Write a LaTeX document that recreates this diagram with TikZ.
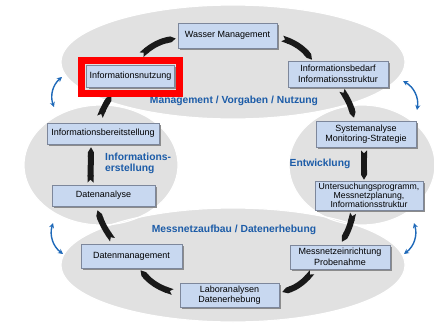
\documentclass[tikz,border=0pt]{standalone}
\usepackage{fontspec}
\setmainfont{Liberation Sans}
\usetikzlibrary{arrows.meta,shadows,calc}
\definecolor{ellgray}{RGB}{225,225,225}
\definecolor{boxfill}{RGB}{200,216,240}
\definecolor{boxline}{RGB}{125,135,155}
\definecolor{labblue}{RGB}{28,92,168}
\definecolor{arrblue}{RGB}{30,105,185}
\begin{document}
\begin{tikzpicture}[x=1pt,y=-1pt,
  box/.style={draw=boxline, line width=0.6pt, fill=boxfill, align=center, inner sep=1pt,
    font=\fontsize{9}{10.5}\selectfont,
    drop shadow={shadow xshift=2pt, shadow yshift=-2pt, fill=black!45, opacity=1}},
  lab/.style={text=labblue, inner sep=0pt, font=\bfseries\fontsize{10.3}{11.2}\selectfont},
  flow/.style={line width=6pt, black!90, {Triangle Cap[reversed,length=3pt]}-{Triangle Cap[length=5pt]}},
  swap/.style={arrblue, line width=1.4pt, {Stealth[length=5pt,width=5pt]}-{Stealth[length=5pt,width=5pt]}},
  ellfill/.style={fill=ellgray},
  elledge/.style={draw=white, line width=1.2pt}]
\useasboundingbox[fill=white] (0,0) rectangle (434,324);
% ellipses
\fill[ellfill] (233,62) ellipse [x radius=172, y radius=57];
\fill[ellfill] (233,265) ellipse [x radius=172, y radius=57];
\fill[ellfill] (101,165) ellipse [x radius=77, y radius=60];
\fill[ellfill] (362,165) ellipse [x radius=73, y radius=60];
\draw[elledge] (233,62) ellipse [x radius=172, y radius=57];
\draw[elledge] (233,265) ellipse [x radius=172, y radius=57];
\draw[elledge] (101,165) ellipse [x radius=77, y radius=60];
\draw[elledge] (362,165) ellipse [x radius=73, y radius=60];
% labels
\node[lab] (l1) at (234,101) {Management / Vorgaben / Nutzung};
\node[lab, align=left, anchor=west] (l2) at (105,163.5) {Informations-\\erstellung};
\node[lab] (l3) at (320,164) {Entwicklung};
\node[lab] (l4) at (234,230) {Messnetzaufbau / Datenerhebung};
% boxes
\node[box, minimum width=99pt, minimum height=25pt] (wm) at (227.5,35.5) {Wasser Management};
\node[box, minimum width=88pt, minimum height=22pt] (in) at (130.5,76) {Informationsnutzung};
\node[box, minimum width=100pt, minimum height=26pt] (ib) at (338,74) {Informationsbedarf\\Informationsstruktur};
\node[box, minimum width=112pt, minimum height=21pt] (bs) at (103,133.5) {Informationsbereitstellung};
\node[box, minimum width=100pt, minimum height=26pt] (sa) at (366,134) {Systemanalyse\\Monitoring-Strategie};
\node[box, minimum width=103pt, minimum height=21pt] (da) at (103.5,195.5) {Datenanalyse};
\node[box, minimum width=108pt, minimum height=29pt, font=\fontsize{8.7}{9}\selectfont] (up) at (369,195.5) {Untersuchungsprogramm,\\Messnetzplanung,\\Informationsstruktur};
\node[box, minimum width=101pt, minimum height=24pt] (dm) at (131.5,256) {Datenmanagement};
\node[box, minimum width=100pt, minimum height=24pt] (me) at (340,257) {Messnetzeinrichtung\\Probenahme};
\node[box, minimum width=99pt, minimum height=24pt] (la) at (229.5,295) {Laboranalysen\\Datenerhebung};
% flow strokes (clockwise)
\draw[flow] ([shift={(5,3)}]wm.east) to[bend left=15] ([shift={(-26,-1)}]ib.north);
\draw[flow] ([shift={(4,3)}]ib.south) to[bend left=8] ([shift={(-12,-3)}]sa.north);
\draw[flow] ([shift={(-2,3)}]sa.south) to ([shift={(-5,-1)}]up.north);
\draw[flow] ([shift={(-16,3)}]up.south) to[bend left=8] ([shift={(2,-3)}]me.north);
\draw[flow] ([shift={(-28,3)}]me.south) to[bend left=15] ([shift={(3,-3)}]la.east);
\draw[flow] ([shift={(-7,-3)}]la.west) to[bend left=15] ([shift={(9,2)}]dm.south);
\draw[flow] ([shift={(-19,-4)}]dm.north) to[bend left=8] ([shift={(-6,4)}]da.south);
\draw[flow] ([shift={(-13,-2)}]da.north) to ([shift={(-12,3)}]bs.south);
\draw[flow] ([shift={(-3,-6)}]bs.north) to[bend left=5] ([shift={(-19,8)}]in.south);
\draw[flow] ([shift={(11,-10)}]in.north) to[bend left=15] ([shift={(-2,3)}]wm.west);
% highlight frame
\draw[red, line width=7pt] ([shift={(-49,-15.5)}]in.center) rectangle ([shift={(49,17.5)}]in.center);
% blue exchange arrows
\draw[swap] (62,77) to[bend right=35] (54,107);
\draw[swap] (403,81) to[bend left=35] (417,110);
\draw[swap] (53,223) to[bend right=35] (63,254);
\draw[swap] (414,223) to[bend left=35] (404,254);
\end{tikzpicture}
\end{document}
